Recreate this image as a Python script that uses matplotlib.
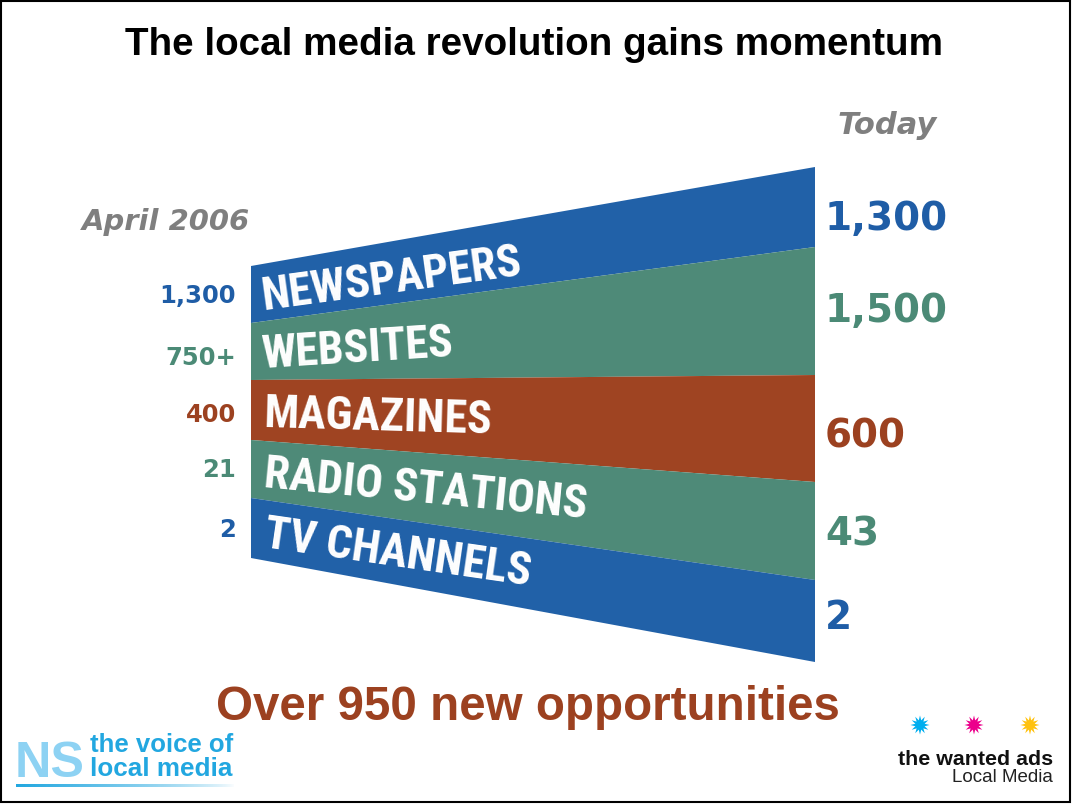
import numpy as np
import matplotlib
matplotlib.use("Agg")
import matplotlib.pyplot as plt
from matplotlib import font_manager
from matplotlib.patches import Polygon, Rectangle

# ---- data ----
categories = ["NEWSPAPERS", "WEBSITES", "MAGAZINES", "RADIO STATIONS", "TV CHANNELS"]
april_2006 = ["1,300", "750+", "400", "21", "2"]
today = ["1,300", "1,500", "600", "43", "2"]
band_colors = ["#2161a8", "#4e8a78", "#9f4422", "#4e8a78", "#2161a8"]
number_colors = ["#1f5da6", "#4b8a76", "#9c4120", "#4b8a76", "#1f5da6"]

# band thickness in pixels at the left (April 2006) and right (Today) edge
left_band_px = [57, 57, 60, 58, 60]
right_band_px = [80, 128, 107, 98, 82]

title = "The local media revolution gains momentum"
footer = "Over 950 new opportunities"

# ---- layout ----
W, H = 1072, 805
x_left, x_right = 251, 815
top_left, top_right = 266, 167
left_num_y = [293, 355, 412, 467, 527]
right_num_y = [215, 307, 432, 530, 614]

names = {f.name for f in font_manager.fontManager.ttflist}
narrow = next((f for f in ["Liberation Sans Narrow", "Roboto Condensed", "Barlow Condensed"] if f in names), "DejaVu Sans")
sans = "Liberation Sans" if "Liberation Sans" in names else "DejaVu Sans"

fig = plt.figure(figsize=(W / 100, H / 100), dpi=100)
ax = fig.add_axes([0, 0, 1, 1])
ax.set_xlim(0, W)
ax.set_ylim(H, 0)
ax.axis("off")

renderer = fig.canvas.get_renderer()


def fit(t, width):
    rot = t.get_rotation()
    t.set_rotation(0)
    bb = t.get_window_extent(renderer)
    t.set_fontsize(t.get_fontsize() * width / bb.width)
    t.set_rotation(rot)
    return t


# bands
yl = top_left + np.concatenate([[0], np.cumsum(left_band_px)])
yr = top_right + np.concatenate([[0], np.cumsum(right_band_px)])
for i, cat in enumerate(categories):
    poly = Polygon([(x_left, yl[i]), (x_right, yr[i]), (x_right, yr[i + 1]), (x_left, yl[i + 1])],
                   closed=True, facecolor=band_colors[i], edgecolor="none")
    ax.add_patch(poly)

    # label roughly follows the band's midline
    mid_l = (yl[i] + yl[i + 1]) / 2
    mid_r = (yr[i] + yr[i + 1]) / 2
    ang = 0.88 * np.degrees(np.arctan2(mid_l - mid_r, x_right - x_left))
    x0 = 263
    mid0 = mid_l + (mid_r - mid_l) * (x0 - x_left) / (x_right - x_left)
    ax.text(x0, mid0 + 17, cat, color="white", fontsize=33, fontweight="bold",
            family=narrow, ha="left", va="baseline", rotation=ang, rotation_mode="anchor")

    ax.text(236, left_num_y[i], april_2006[i], color=number_colors[i],
            fontsize=17.5, fontweight="bold", family="DejaVu Sans", ha="right", va="center_baseline")
    ax.text(825, right_num_y[i], today[i], color=number_colors[i],
            fontsize=28, fontweight="bold", family="DejaVu Sans", ha="left", va="center_baseline")

# headers
t = ax.text(534, 55, title, fontsize=27, fontweight="bold", family=sans, ha="center", va="baseline", color="black")
fit(t, 818)
t = ax.text(166, 230, "April 2006", fontsize=21, fontweight="bold", style="italic", family="DejaVu Sans",
            ha="center", va="baseline", color="#7f7f7f")
fit(t, 168)
t = ax.text(887, 134, "Today", fontsize=20, fontweight="bold", style="italic", family="DejaVu Sans",
            ha="center", va="baseline", color="#7f7f7f")
fit(t, 99)
t = ax.text(528, 720, footer, fontsize=32, fontweight="bold", family=sans, ha="center", va="baseline",
            color="#9c4120")
fit(t, 624)

# NS logo
t = ax.text(15, 777, "NS", fontsize=40, fontweight="bold", family=sans, color="#8dd2f3", ha="left", va="baseline")
fit(t, 70)
t = ax.text(90, 752, "the voice of", fontsize=16, fontweight="bold", family=sans, color="#22a7e0",
            ha="left", va="baseline")
fit(t, 143)
t = ax.text(90, 776, "local media", fontsize=16, fontweight="bold", family=sans, color="#22a7e0",
            ha="left", va="baseline")
fit(t, 142)
grad = np.ones((1, 256, 4))
grad[0, :, :3] = matplotlib.colors.to_rgb("#22a7e0")
grad[0, :, 3] = np.linspace(1, 0, 256) ** 0.7
ax.imshow(grad, extent=[16, 235, 787, 784], aspect="auto", zorder=2)

# wanted ads logo
star_x = [920, 974, 1030]
star_c = ["#00aeef", "#ec008c", "#ffc20e"]
ax.scatter(star_x, [725] * 3, s=190, marker=(12, 1, 0), c=star_c, linewidths=0)
t = ax.text(1053, 765, "the wanted ads", fontsize=14.5, fontweight="bold", family=sans, color="#111111",
            ha="right", va="baseline")
fit(t, 155)
t = ax.text(1053, 782, "Local Media", fontsize=13, family=sans, color="#222222", ha="right", va="baseline")
fit(t, 101)

# slide frame
ax.add_patch(Rectangle((1, 1), W - 3, H - 4, fill=False, edgecolor="black", linewidth=1.5))

ax.set_xlim(0, W)
ax.set_ylim(H, 0)
fig.savefig("out.png", dpi=100)
